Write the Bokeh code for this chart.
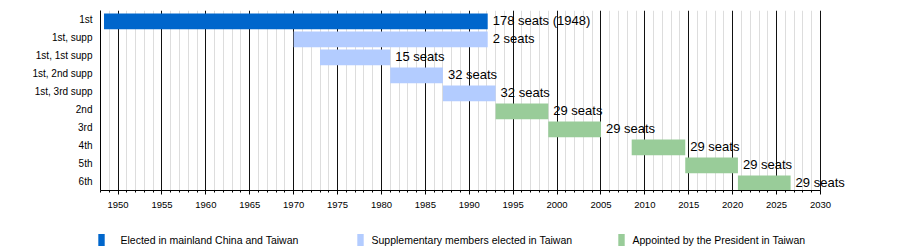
from bokeh.plotting import figure
from bokeh.models import (ColumnDataSource, FactorRange, Range1d, SingleIntervalTicker,
                          Legend, LegendItem)
from bokeh.layouts import column
from bokeh.transform import dodge
from bokeh.core.properties import value
from bokeh.embed import file_html
from bokeh.resources import INLINE

# ---- data ----
rows = ["1st", "1st, supp", "1st, 1st supp", "1st, 2nd supp", "1st, 3rd supp",
        "2nd", "3rd", "4th", "5th", "6th"]
starts = [1948.4, 1970.0, 1973.0, 1981.0, 1987.0, 1993.0, 1999.0, 2008.5, 2014.6, 2020.6]
ends = [1992.1, 1992.1, 1981.0, 1987.0, 1993.0, 1999.0, 2005.0, 2014.6, 2020.6, 2026.6]
seat_labels = ["178 seats (1948)", "2 seats", "15 seats", "32 seats", "32 seats",
               "29 seats", "29 seats", "29 seats", "29 seats", "29 seats"]
kinds = ["elected", "supp", "supp", "supp", "supp",
         "appointed", "appointed", "appointed", "appointed", "appointed"]
kind_order = ["elected", "supp", "appointed"]
kind_names = {"elected": "Elected in mainland China and Taiwan",
              "supp": "Supplementary members elected in Taiwan",
              "appointed": "Appointed by the President in Taiwan"}
kind_colors = {"elected": "#0066CC", "supp": "#B3CCFF", "appointed": "#99CC99"}
year_start, year_end = 1948, 2030

FONT = "Liberation Sans"
PX_PER_YEAR = 8.78
FRAME_W = 750

p = figure(width=900, height=220, output_backend="svg", toolbar_location=None,
           x_range=Range1d(year_start, year_start + FRAME_W / PX_PER_YEAR),
           y_range=FactorRange(factors=list(reversed(rows)), range_padding=0),
           min_border_left=100, min_border_right=900 - 100 - FRAME_W, min_border_top=10,
           min_border_bottom=30)
p.outline_line_color = None
p.background_fill_color = "white"
p.border_fill_color = "white"

ticker = SingleIntervalTicker(interval=5, num_minor_ticks=5)
p.xaxis.ticker = ticker
p.xaxis.bounds = (year_start, year_end)
p.xgrid.ticker = ticker
p.xgrid.bounds = (year_start, year_end)
p.xgrid.grid_line_color = "#111111"
p.xgrid.grid_line_width = 1
p.xgrid.minor_grid_line_color = "#dddddd"
p.ygrid.visible = False

xa = p.xaxis[0]
xa.axis_line_color = "black"
xa.major_tick_line_color = "black"
xa.minor_tick_line_color = "black"
xa.major_tick_out = 4
xa.major_tick_in = 0
xa.minor_tick_out = 2
xa.minor_tick_in = 0
xa.major_label_standoff = 7
xa.major_label_text_font = FONT
xa.major_label_text_font_size = "9.5px"
xa.major_label_text_color = "black"

ya = p.yaxis[0]
ya.axis_line_color = "black"
ya.major_tick_line_color = None
ya.minor_tick_line_color = None
ya.major_tick_out = 0
ya.major_tick_in = 0
ya.major_label_standoff = 8
ya.major_label_text_font = FONT
ya.major_label_text_font_size = "10px"
ya.major_label_text_color = "black"

sources = {}
for k in kind_order:
    idx = [i for i, kk in enumerate(kinds) if kk == k]
    src = ColumnDataSource(dict(row=[rows[i] for i in idx],
                                left=[starts[i] for i in idx],
                                right=[ends[i] for i in idx],
                                label=[seat_labels[i] for i in idx]))
    sources[k] = src
    p.hbar(y=dodge("row", -0.1, range=p.y_range), left="left", right="right",
           height=0.87, source=src, fill_color=kind_colors[k], line_color=None)
    p.text(x="right", y=dodge("row", -0.08, range=p.y_range), text="label", source=src,
           x_offset=5, text_baseline="middle", text_align="left",
           text_font=value(FONT), text_font_size="13px", text_color="black")

# ---- legend strip (separate figure, full-width frame) ----
lf = figure(width=900, height=30, output_backend="svg", toolbar_location=None,
            x_range=Range1d(0, 1), y_range=Range1d(0, 1),
            x_axis_type=None, y_axis_type=None, min_border=0)
lf.outline_line_color = None
lf.xgrid.visible = False
lf.ygrid.visible = False
for fig in (p, lf):
    try:
        fig.frame_align = False
    except Exception:
        pass

leg_pos = {"elected": (96.5, 16), "supp": (355.5, 8), "appointed": (616.5, 8)}
for k in kind_order:
    # legend proxy: same data, placed outside the strip's visible range
    r = lf.hbar(y=value(-10), left="left", right="right", height=1, source=sources[k],
                fill_color=kind_colors[k], line_color=None)
    vx, standoff = leg_pos[k]
    lg = Legend(items=[LegendItem(label=kind_names[k], renderers=[r])],
                location=(vx, 0.5), padding=0, margin=0, spacing=0,
                glyph_width=8, glyph_height=15, label_standoff=standoff,
                label_height=20, border_line_color=None, background_fill_alpha=0,
                label_text_font=FONT, label_text_font_size="10.5px",
                label_text_color="black")
    lf.add_layout(lg)

open("out.html", "w").write(file_html(column(p, lf, spacing=0), INLINE))
